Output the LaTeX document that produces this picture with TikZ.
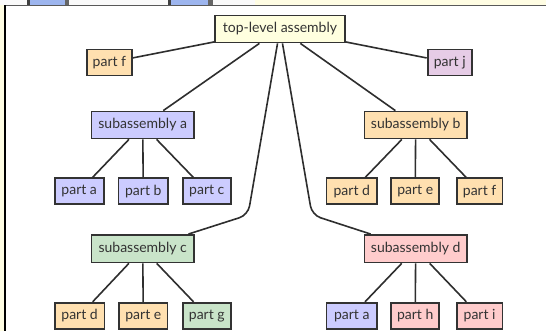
\documentclass[tikz,border=0pt]{standalone}
\usepackage{fontspec}
\setmainfont{Lato}
\begin{document}
\begin{tikzpicture}[x=1pt,y=-1pt,
  box/.style={draw=bordc, line width=1.8pt, text=textc, inner xsep=0pt, inner ysep=0pt,
    minimum height=26pt, font=\fontsize{14}{16}\selectfont},
  conn/.style={draw=linec, line width=1.6pt},
  yel/.style={box, fill=cyel},
  ora/.style={box, fill=cora},
  pur/.style={box, fill=cpur},
  blu/.style={box, fill=cblu},
  grn/.style={box, fill=cgrn},
  pnk/.style={box, fill=cpnk}]
\definecolor{bordc}{HTML}{333333}
\definecolor{linec}{HTML}{2E2E2E}
\definecolor{textc}{HTML}{333333}
\definecolor{cyel}{HTML}{FFFFDF}
\definecolor{cora}{HTML}{FFE0B0}
\definecolor{cpur}{HTML}{E6CCE6}
\definecolor{cblu}{HTML}{CCCCFF}
\definecolor{cgrn}{HTML}{C9E4C9}
\definecolor{cpnk}{HTML}{FFCCCC}
\definecolor{bgyel}{HTML}{FFFDE3}
\definecolor{blobc}{HTML}{9DB5EE}
\useasboundingbox (0,0) rectangle (546,331);
% background frame
\fill[bgyel] (0,0) rectangle (546,331);
\fill[white!96!gray] (0,0) rectangle (255,5.5);
\fill[blobc] (27,0) rectangle (69,5.5);
\fill[black!75] (27,0) rectangle (30,5.5);
\fill[black!60] (65,0) rectangle (69,5.5);
\fill[blobc] (168,0) rectangle (213,5.5);
\fill[black!75] (168,0) rectangle (171,5.5);
\fill[black!60] (208,0) rectangle (213,5.5);
\fill[white] (5,5.5) rectangle (546,331);
\draw[line width=1.4pt, black!65] (5,5.5) -- (546,5.5);
\draw[line width=1.5pt, black] (5,5.5) -- (5,331);
% nodes
\node[yel, minimum width=130pt, minimum height=27pt] (top) at (280,29) {top-level assembly};
\node[ora, minimum width=45.6pt] (pf) at (109.4,62.5) {part f};
\node[pur, minimum width=44.2pt] (pj) at (449.7,62.5) {part j};
\node[blu, minimum width=102.3pt, minimum height=27pt] (sa) at (142.7,125) {subassembly a};
\node[ora, minimum width=102.3pt, minimum height=27pt] (sb) at (415.7,125) {subassembly b};
\node[blu, minimum width=49pt] (a1) at (79.2,191.4) {part a};
\node[blu, minimum width=49.8pt] (b1) at (143.3,191.4) {part b};
\node[blu, minimum width=48pt] (c1) at (206.8,191.4) {part c};
\node[ora, minimum width=50.5pt] (d1) at (351.8,191.4) {part d};
\node[ora, minimum width=48.3pt] (e1) at (415.2,191.4) {part e};
\node[ora, minimum width=45.6pt] (f1) at (479.6,191.4) {part f};
\node[grn, minimum width=102.3pt, minimum height=27.5pt] (sc) at (142.7,248.7) {subassembly c};
\node[pnk, minimum width=102.3pt, minimum height=27.5pt] (sd) at (415.7,248.7) {subassembly d};
\node[ora, minimum width=49.8pt] (d2) at (79.6,315.7) {part d};
\node[ora, minimum width=48.3pt] (e2) at (143.3,315.7) {part e};
\node[grn, minimum width=48pt] (g2) at (206.8,315.7) {part g};
\node[blu, minimum width=50.5pt] (a2) at (351.8,315.7) {part a};
\node[pnk, minimum width=48.3pt] (h2) at (415.2,315.7) {part h};
\node[pnk, minimum width=45.6pt] (i2) at (479.6,315.7) {part i};
% corner coordinates
\coordinate (kc) at (248,215);
\coordinate (kd) at (312,215);
% connectors
\draw[conn] (top) -- (pf);
\draw[conn] (top) -- (pj);
\draw[conn] (top) -- (sa);
\draw[conn] (top) -- (sb);
\draw[conn, rounded corners=9pt] (top) -- (kc) -- (sc);
\draw[conn, rounded corners=9pt] (top) -- (kd) -- (sd);
\draw[conn] (sa) -- (a1);
\draw[conn] (sa) -- (b1);
\draw[conn] (sa) -- (c1);
\draw[conn] (sb) -- (d1);
\draw[conn] (sb) -- (e1);
\draw[conn] (sb) -- (f1);
\draw[conn] (sc) -- (d2);
\draw[conn] (sc) -- (e2);
\draw[conn] (sc) -- (g2);
\draw[conn] (sd) -- (a2);
\draw[conn] (sd) -- (h2);
\draw[conn] (sd) -- (i2);
\end{tikzpicture}
\end{document}
